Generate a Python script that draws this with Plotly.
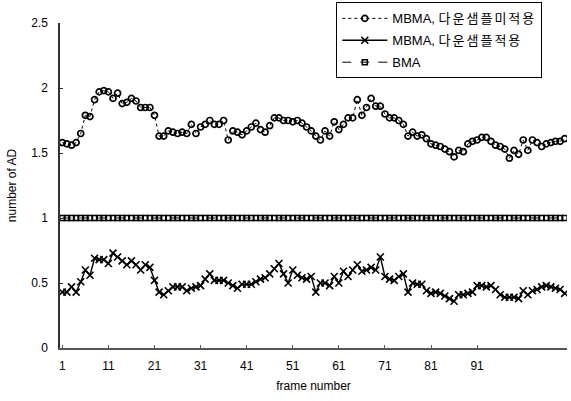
import plotly.graph_objects as go

# Frame indices and per-frame counts
frames = list(range(1, 111))

mbma_no_ds = [
    1.58, 1.57, 1.56, 1.58, 1.65, 1.79, 1.78, 1.91, 1.97, 1.98,
    1.97, 1.92, 1.96, 1.88, 1.89, 1.92, 1.90, 1.85, 1.85, 1.85,
    1.79, 1.63, 1.63, 1.67, 1.66, 1.65, 1.66, 1.65, 1.72, 1.65,
    1.70, 1.72, 1.75, 1.72, 1.72, 1.75, 1.60, 1.67, 1.66, 1.64,
    1.67, 1.70, 1.73, 1.68, 1.66, 1.71, 1.77, 1.77, 1.75, 1.75,
    1.74, 1.75, 1.73, 1.70, 1.67, 1.63, 1.60, 1.67, 1.63, 1.74,
    1.68, 1.72, 1.77, 1.77, 1.91, 1.79, 1.85, 1.92, 1.86, 1.86,
    1.80, 1.77, 1.77, 1.75, 1.72, 1.63, 1.66, 1.63, 1.64, 1.61,
    1.57, 1.56, 1.55, 1.53, 1.51, 1.47, 1.52, 1.51, 1.57, 1.59,
    1.60, 1.62, 1.62, 1.59, 1.56, 1.55, 1.53, 1.46, 1.52, 1.49,
    1.60, 1.52, 1.60, 1.58, 1.55, 1.57, 1.58, 1.59, 1.59, 1.61,
]

mbma_ds = [
    0.43, 0.43, 0.47, 0.43, 0.51, 0.60, 0.56, 0.69, 0.68, 0.68,
    0.65, 0.73, 0.70, 0.67, 0.64, 0.67, 0.64, 0.60, 0.64, 0.62,
    0.52, 0.43, 0.41, 0.44, 0.47, 0.47, 0.47, 0.44, 0.46, 0.47,
    0.48, 0.53, 0.57, 0.52, 0.52, 0.52, 0.50, 0.48, 0.46, 0.49,
    0.49, 0.49, 0.51, 0.53, 0.54, 0.57, 0.61, 0.65, 0.57, 0.50,
    0.60, 0.56, 0.54, 0.53, 0.55, 0.43, 0.50, 0.50, 0.48, 0.55,
    0.50, 0.59, 0.55, 0.60, 0.64, 0.59, 0.60, 0.62, 0.60, 0.70,
    0.55, 0.53, 0.52, 0.55, 0.57, 0.43, 0.50, 0.49, 0.49, 0.44,
    0.42, 0.43, 0.42, 0.40, 0.38, 0.36, 0.41, 0.41, 0.42, 0.43,
    0.48, 0.48, 0.47, 0.48, 0.45, 0.41, 0.39, 0.39, 0.39, 0.38,
    0.44, 0.41, 0.44, 0.45, 0.47, 0.48, 0.47, 0.46, 0.45, 0.42,
]

bma = [
    1.0, 1.0, 1.0, 1.0, 1.0, 1.0, 1.0, 1.0, 1.0, 1.0,
    1.0, 1.0, 1.0, 1.0, 1.0, 1.0, 1.0, 1.0, 1.0, 1.0,
    1.0, 1.0, 1.0, 1.0, 1.0, 1.0, 1.0, 1.0, 1.0, 1.0,
    1.0, 1.0, 1.0, 1.0, 1.0, 1.0, 1.0, 1.0, 1.0, 1.0,
    1.0, 1.0, 1.0, 1.0, 1.0, 1.0, 1.0, 1.0, 1.0, 1.0,
    1.0, 1.0, 1.0, 1.0, 1.0, 1.0, 1.0, 1.0, 1.0, 1.0,
    1.0, 1.0, 1.0, 1.0, 1.0, 1.0, 1.0, 1.0, 1.0, 1.0,
    1.0, 1.0, 1.0, 1.0, 1.0, 1.0, 1.0, 1.0, 1.0, 1.0,
    1.0, 1.0, 1.0, 1.0, 1.0, 1.0, 1.0, 1.0, 1.0, 1.0,
    1.0, 1.0, 1.0, 1.0, 1.0, 1.0, 1.0, 1.0, 1.0, 1.0,
    1.0, 1.0, 1.0, 1.0, 1.0, 1.0, 1.0, 1.0, 1.0, 1.0,
]

x_tick_vals = [1, 11, 21, 31, 41, 51, 61, 71, 81, 91]
y_tick_vals = [0, 0.5, 1, 1.5, 2, 2.5]
y_tick_text = ["0", "0.5", "1", "1.5", "2", "2.5"]

FONT = "Liberation Sans, Arial, Noto Sans CJK KR, sans-serif"
KO = '<span style="letter-spacing:2px">{}</span>'

fig = go.Figure()

fig.add_trace(go.Scatter(
    x=frames, y=mbma_no_ds, name="MBMA, " + KO.format("다운샘플미적용"),
    mode="lines+markers", legendgroup="a",
    line=dict(color="black", width=1, dash="dot"),
    marker=dict(symbol="circle-open", size=6, color="black",
                line=dict(color="black", width=1.7)),
))
fig.add_trace(go.Scatter(
    x=frames, y=mbma_ds, name="MBMA, " + KO.format("다운샘플적용"),
    mode="lines+markers", legendgroup="b",
    line=dict(color="black", width=1.4),
    marker=dict(symbol="x-thin-open", size=7, color="black",
                line=dict(color="black", width=1.6)),
))
fig.add_trace(go.Scatter(
    x=frames, y=bma, name="BMA",
    mode="lines+markers", legendgroup="c",
    line=dict(color="black", width=1, dash="dash"),
    marker=dict(symbol="square-open", size=5, color="black",
                line=dict(color="black", width=1.6)),
))

fig.update_layout(
    width=571, height=401,
    margin=dict(l=60, r=4, t=22, b=53),
    paper_bgcolor="white", plot_bgcolor="white",
    font=dict(family=FONT, size=12, color="black"),
    showlegend=True,
    legend=dict(
        x=0.545, y=1.06, xanchor="left", yanchor="top",
        bgcolor="white", bordercolor="black", borderwidth=1,
        font=dict(family=FONT, size=13, color="black"),
        tracegroupgap=2, itemwidth=45,
    ),
    xaxis=dict(
        range=[0.5, 110.5], tickmode="array", tickvals=x_tick_vals,
        ticks="inside", ticklen=3, tickcolor="#555",
        showline=True, linecolor="#555", linewidth=1.5,
        showgrid=False, zeroline=False,
        ticklabelstandoff=6,
        title=dict(text="frame number", standoff=9,
                   font=dict(family=FONT, size=12)),
    ),
    yaxis=dict(
        range=[0, 2.5], tickmode="array", tickvals=y_tick_vals,
        ticktext=y_tick_text,
        ticks="inside", ticklen=3, tickcolor="#333",
        showline=True, linecolor="#333", linewidth=1.5,
        showgrid=False, zeroline=False,
        ticklabelstandoff=8,
        title=dict(text="number of AD", standoff=12,
                   font=dict(family=FONT, size=12)),
    ),
)

fig.write_html("out.html")
